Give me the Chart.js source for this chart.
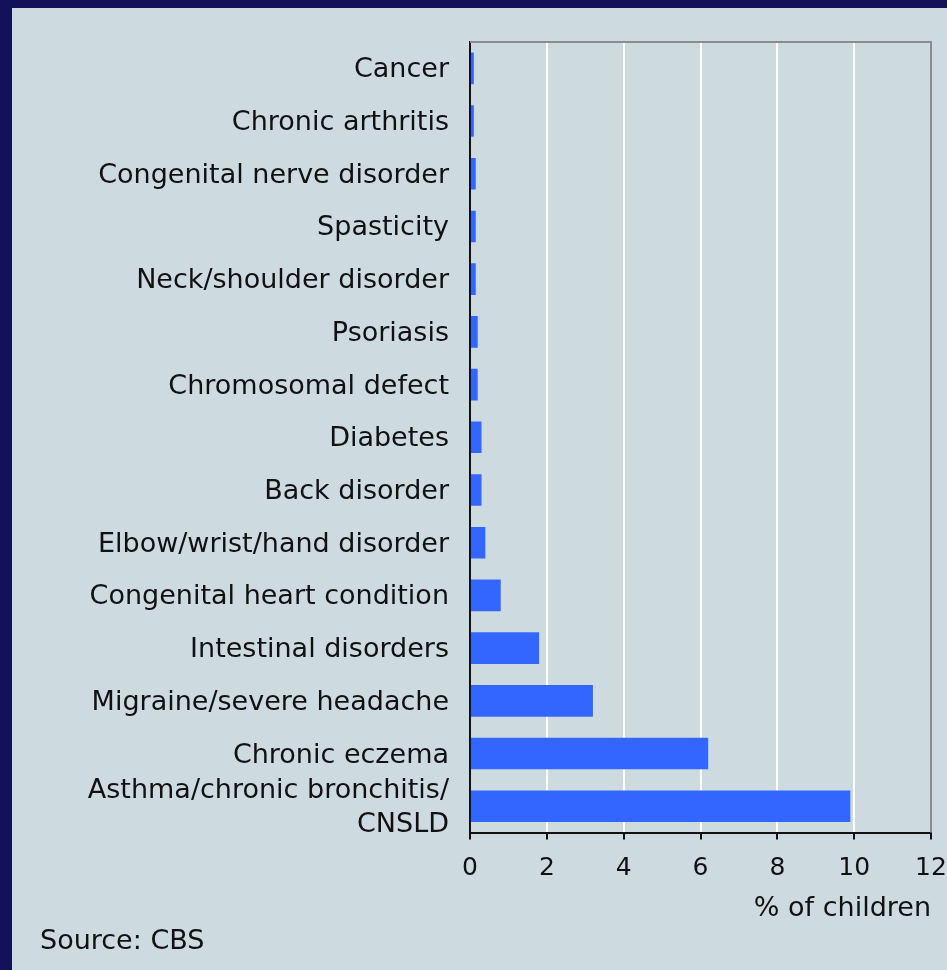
<!DOCTYPE html>
<html>
<head>
<meta charset="utf-8">
<script src="https://cdn.jsdelivr.net/npm/chart.js@4.4.1/dist/chart.umd.min.js"></script>
<style>
  html, body { margin: 0; padding: 0; background: #13115a; width: 947px; height: 970px; overflow: hidden; }
  #wrap { position: absolute; left: 12px; top: 8px; width: 935px; height: 962px; background: #cddbe0; }
</style>
</head>
<body>
<div id="wrap"><canvas id="c"></canvas></div>
<script>
const categories = [
  'Cancer',
  'Chronic arthritis',
  'Congenital nerve disorder',
  'Spasticity',
  'Neck/shoulder disorder',
  'Psoriasis',
  'Chromosomal defect',
  'Diabetes',
  'Back disorder',
  'Elbow/wrist/hand disorder',
  'Congenital heart condition',
  'Intestinal disorders',
  'Migraine/severe headache',
  'Chronic eczema',
  ['Asthma/chronic bronchitis/', 'CNSLD']
];
const percentChildren = [0.1, 0.1, 0.15, 0.15, 0.15, 0.2, 0.2, 0.3, 0.3, 0.4, 0.8, 1.8, 3.2, 6.2, 9.9];
const xTicks = [0, 2, 4, 6, 8, 10, 12];
const xTitle = '% of children';
const sourceText = 'Source: CBS';

Chart.defaults.font.family = "'DejaVu Sans', Verdana, sans-serif";
Chart.defaults.font.size = 27;
Chart.defaults.color = '#111111';

const framePlugin = {
  id: 'frame',
  afterDatasetsDraw(chart) {
    const {ctx, chartArea: a} = chart;
    ctx.save();
    ctx.strokeStyle = '#8c8c8c';
    ctx.lineWidth = 2;
    ctx.beginPath();
    ctx.moveTo(a.left, a.top);
    ctx.lineTo(a.right, a.top);
    ctx.lineTo(a.right, a.bottom);
    ctx.stroke();
    ctx.restore();
  }
};

new Chart(document.getElementById('c'), {
  type: 'bar',
  data: {
    labels: categories,
    datasets: [{
      data: percentChildren,
      backgroundColor: '#3366ff',
      borderWidth: 0,
      barPercentage: 0.6,
      categoryPercentage: 1.0
    }]
  },
  options: {
    indexAxis: 'y',
    responsive: true,
    maintainAspectRatio: false,
    animation: false,
    layout: { padding: { left: 28, top: 34, right: 16, bottom: 12 } },
    plugins: {
      legend: { display: false },
      tooltip: { enabled: false },
      title: {
        display: true,
        text: sourceText,
        position: 'bottom',
        align: 'start',
        padding: { top: 0, bottom: 0 },
        font: { size: 27, weight: 'normal' },
        color: '#111111'
      }
    },
    scales: {
      x: {
        type: 'linear',
        min: 0,
        max: 12,
        afterBuildTicks(scale) { scale.ticks = xTicks.map(v => ({ value: v })); },
        afterFit(scale) { scale.height = 93; scale.paddingLeft = 0; scale.paddingRight = 0; },
        grid: {
          color: '#ffffff',
          lineWidth: 2,
          drawTicks: true,
          tickLength: 7,
          tickWidth: 2,
          tickColor: '#111111'
        },
        border: { color: '#111111', width: 2 },
        ticks: { padding: 14, maxRotation: 0, autoSkip: false, font: { size: 25 } },
        title: {
          display: true,
          text: xTitle,
          align: 'end',
          padding: { top: 0, bottom: 0 },
          color: '#111111'
        }
      },
      y: {
        afterFit(scale) { scale.width = 430; scale.paddingTop = 0; scale.paddingBottom = 0; },
        grid: { display: false, drawTicks: false },
        border: { color: '#111111', width: 2 },
        ticks: { padding: 21, autoSkip: false, labelOffset: 2, font: { lineHeight: 1.25 } }
      }
    }
  },
  plugins: [framePlugin]
});
</script>
</body>
</html>
